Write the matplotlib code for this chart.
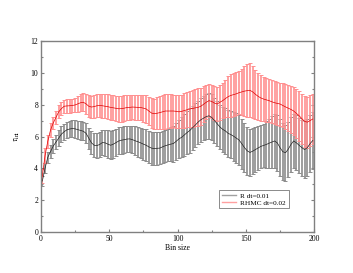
import numpy as np
import matplotlib
matplotlib.use("Agg")
import matplotlib.pyplot as plt
from matplotlib.lines import Line2D

plt.rcParams['font.family'] = ['Liberation Serif', 'DejaVu Serif']
plt.rcParams['mathtext.fontset'] = 'stix'

bin_size = list(range(1, 201, 2))

r_mean = [3.2, 4.0, 4.7, 5.05, 5.4, 5.65, 5.9, 6.15, 6.3, 6.42,
          6.47, 6.5, 6.48, 6.43, 6.38, 6.33, 6.2, 5.9, 5.6, 5.45,
          5.43, 5.5, 5.62, 5.6, 5.52, 5.45, 5.52, 5.62, 5.72, 5.77,
          5.8, 5.84, 5.85, 5.8, 5.73, 5.67, 5.6, 5.52, 5.45, 5.35,
          5.27, 5.24, 5.26, 5.27, 5.35, 5.42, 5.47, 5.52, 5.56, 5.7,
          5.85, 5.95, 6.1, 6.25, 6.38, 6.55, 6.72, 6.9, 7.05, 7.15,
          7.25, 7.3, 7.2, 7.0, 6.8, 6.6, 6.45, 6.35, 6.2, 6.12,
          6.02, 5.9, 5.78, 5.55, 5.3, 5.1, 5.0, 5.08, 5.18, 5.28,
          5.38, 5.44, 5.5, 5.58, 5.65, 5.72, 5.6, 5.3, 5.05, 4.98,
          5.2, 5.5, 5.72, 5.6, 5.45, 5.3, 5.18, 5.3, 5.55, 5.75]
r_err = [0.3, 0.32, 0.35, 0.4, 0.42, 0.45, 0.48, 0.5, 0.5, 0.52,
         0.53, 0.55, 0.55, 0.56, 0.57, 0.58, 0.62, 0.66, 0.72, 0.74,
         0.76, 0.78, 0.8, 0.83, 0.86, 0.88, 0.87, 0.86, 0.85, 0.84,
         0.84, 0.83, 0.83, 0.86, 0.9, 0.93, 0.96, 0.98, 1.0, 1.02,
         1.04, 1.04, 1.03, 1.02, 1.01, 1.0, 1.03, 1.08, 1.13, 1.17,
         1.2, 1.25, 1.3, 1.35, 1.4, 1.38, 1.36, 1.35, 1.37, 1.4,
         1.43, 1.45, 1.44, 1.42, 1.41, 1.4, 1.42, 1.44, 1.46, 1.5,
         1.54, 1.57, 1.6, 1.58, 1.55, 1.52, 1.5, 1.46, 1.42, 1.38,
         1.36, 1.35, 1.45, 1.55, 1.65, 1.72, 1.78, 1.8, 1.78, 1.75,
         1.72, 1.7, 1.7, 1.72, 1.74, 1.76, 1.77, 1.78, 1.79, 1.8]

rhmc_mean = [3.5, 4.8, 5.7, 6.4, 6.85, 7.2, 7.55, 7.75, 7.9, 7.92,
             7.93, 7.95, 7.98, 8.05, 8.12, 8.15, 8.05, 7.9, 7.85, 7.88,
             7.93, 7.95, 7.93, 7.9, 7.87, 7.83, 7.8, 7.77, 7.74, 7.75,
             7.78, 7.82, 7.83, 7.85, 7.84, 7.83, 7.82, 7.78, 7.73, 7.6,
             7.47, 7.43, 7.46, 7.5, 7.55, 7.6, 7.6, 7.6, 7.6, 7.58,
             7.55, 7.58, 7.63, 7.68, 7.73, 7.76, 7.8, 7.83, 7.9, 8.02,
             8.15, 8.25, 8.2, 8.1, 8.04, 8.15, 8.25, 8.38, 8.5, 8.58,
             8.63, 8.68, 8.75, 8.8, 8.85, 8.88, 8.9, 8.8, 8.65, 8.52,
             8.42, 8.35, 8.3, 8.25, 8.18, 8.12, 8.08, 8.04, 7.95, 7.86,
             7.78, 7.7, 7.6, 7.45, 7.3, 7.12, 6.95, 6.9, 7.0, 7.1]
rhmc_err = [0.45, 0.45, 0.42, 0.42, 0.4, 0.4, 0.4, 0.41, 0.42, 0.42,
            0.43, 0.43, 0.45, 0.5, 0.54, 0.56, 0.62, 0.68, 0.7, 0.72,
            0.73, 0.74, 0.75, 0.76, 0.77, 0.78, 0.79, 0.8, 0.82, 0.81,
            0.8, 0.79, 0.78, 0.78, 0.78, 0.78, 0.8, 0.84, 0.87, 0.9,
            0.92, 0.95, 1.0, 1.04, 1.07, 1.1, 1.08, 1.05, 1.03, 1.03,
            1.03, 1.05, 1.08, 1.11, 1.13, 1.15, 1.17, 1.19, 1.17, 1.12,
            1.07, 1.04, 1.05, 1.07, 1.08, 1.09, 1.1, 1.18, 1.28, 1.35,
            1.35, 1.35, 1.35, 1.45, 1.55, 1.65, 1.7, 1.65, 1.55, 1.47,
            1.42, 1.4, 1.38, 1.37, 1.36, 1.35, 1.35, 1.35, 1.38, 1.41,
            1.44, 1.47, 1.5, 1.53, 1.56, 1.58, 1.6, 1.6, 1.6, 1.6]

labels = ["R dt=0.01", "RHMC dt=0.02"]

fig = plt.figure(figsize=(3.53, 2.73), dpi=100)
ax = fig.add_axes([0.116, 0.150, 0.774, 0.700])

_, caps_r, _ = ax.errorbar(bin_size, r_mean, yerr=r_err, color='#222222', lw=0.5,
                           elinewidth=1.2, capsize=1.5, capthick=0.7,
                           ecolor='#8c8c8c')
for c in caps_r:
    c.set_color('#222222')
_, caps_h, _ = ax.errorbar(bin_size, rhmc_mean, yerr=rhmc_err, color='#e00000', lw=0.5,
                           elinewidth=1.2, capsize=1.5, capthick=0.7,
                           ecolor='#ff9090')
for c in caps_h:
    c.set_color('#ff1010')

ax.set_xlim(0, 200)
ax.set_ylim(0, 12)
ax.set_xticks([0, 50, 100, 150, 200])
ax.set_xticks([25, 75, 125, 175], minor=True)
ax.set_yticks(range(0, 13, 2))
ax.set_yticks(range(1, 12, 2), minor=True)
ax.tick_params(which='both', direction='in', right=True, top=False,
               labelsize=5.5, color='#808080', pad=2)
ax.tick_params(which='major', length=2.5, width=0.8)
ax.tick_params(which='minor', length=1.5, width=0.8)
for s in ax.spines.values():
    s.set_color('#808080')
    s.set_linewidth(1.0)

ax.set_xlabel("Bin size", fontsize=5.5, labelpad=1)
ax.set_ylabel(r"$\tau_{\mathrm{int}}$", fontsize=6, labelpad=6)

handles = [Line2D([], [], color='#a0a0a0', lw=1.0),
           Line2D([], [], color='#ffa0a0', lw=1.0)]
leg = ax.legend(handles, labels, loc='upper left', bbox_to_anchor=(0.652, 0.22),
                fontsize=5.2, frameon=True, fancybox=False, handlelength=2.0,
                borderpad=0.35, labelspacing=0.15, handletextpad=0.6,
                borderaxespad=0)
leg.get_frame().set_edgecolor('#555555')
leg.get_frame().set_linewidth(0.6)

fig.savefig("out.png", dpi=100)
